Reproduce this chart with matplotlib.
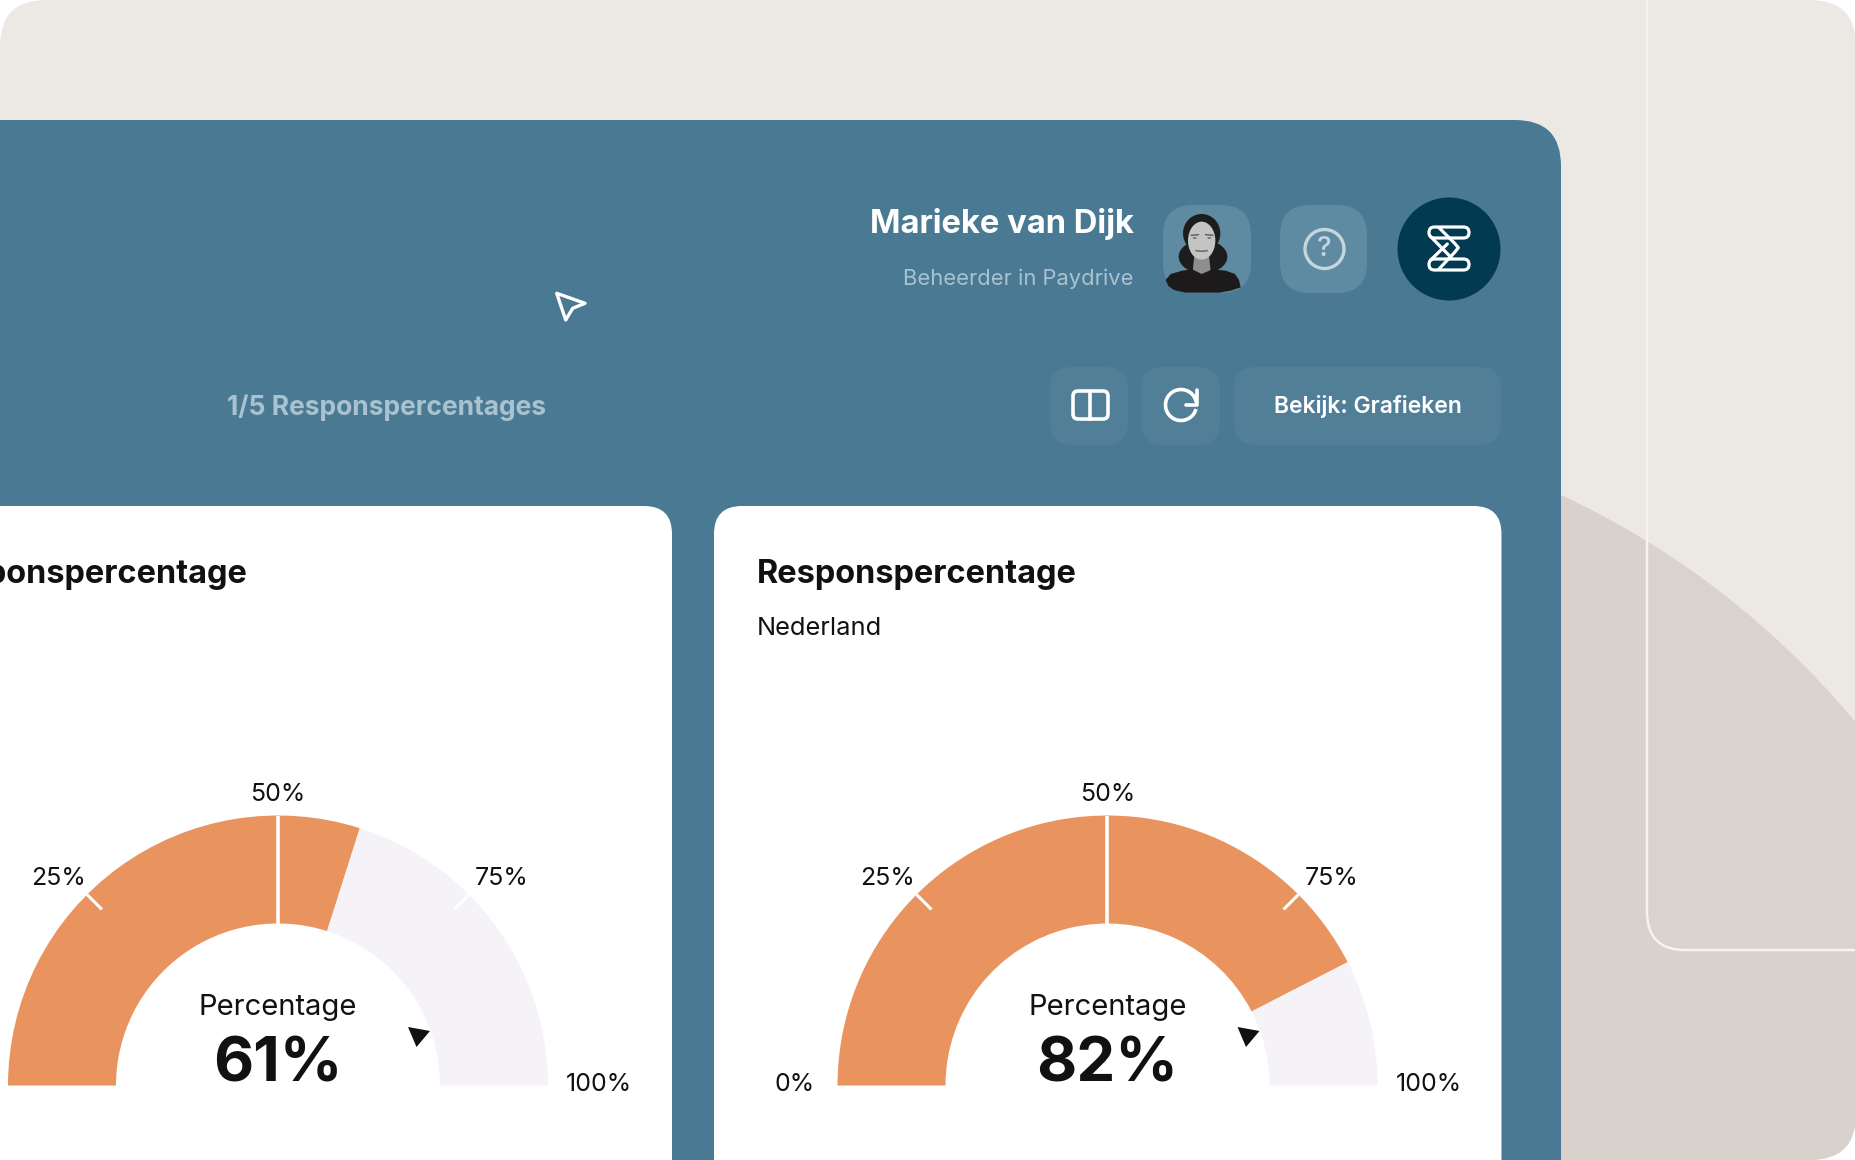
import numpy as np
import matplotlib
matplotlib.use('Agg')
import matplotlib.pyplot as plt
from matplotlib.patches import FancyBboxPatch, Circle, Polygon, Ellipse, Arc

W = 1856
H = 1160

# gauge data: shown number and where the orange arc really stops in the picture
gauge_labels = ['61%', '82%']
gauge_fill = [59.8, 84.9]
gauge_centers = [278, 1107.5]
tick_values = [0, 25, 50, 75, 100]
tick_texts = ['0%', '25%', '50%', '75%', '100%']

# offset of each tick text from its point on the outer arc, in pixels
tick_text_dx = [-43, -29, 0, 33, 51]
tick_text_dy = [1, 16, 21, 16, 1]

BG_LIGHT = '#ECE9E4'
BG_DARK = '#D9D1CB'
PANEL = '#4A7A93'
BUTTON = '#517F98'
SQUARE = '#5E8AA2'
NAVY = '#023A52'
ORANGE = '#E9945F'
TRACK = '#F5F3F7'
INK = '#111114'
MUTED = '#A9C2D0'

R_OUT = 270
R_IN = 162
R_AX = 345
CY = 1085.5

plt.rcParams['font.family'] = ['Inter', 'DejaVu Sans']

fig = plt.figure(figsize=(W / 100, H / 100), dpi=100, facecolor='white')
ax = fig.add_axes([0, 0, 1, 1], zorder=0)
ax.set_xlim(0, W)
ax.set_ylim(H, 0)
ax.axis('off')


def rbox(a, x0, y0, x1, y1, r, **kw):
    p = FancyBboxPatch((x0 + r, y0 + r), x1 - x0 - 2 * r, y1 - y0 - 2 * r,
                       boxstyle='round,pad=%f,rounding_size=%f' % (r, r), lw=kw.pop('lw', 0), **kw)
    a.add_patch(p)
    return p


# backdrop
bg = rbox(ax, 0, 0, W, H, 46, fc=BG_LIGHT)
blob = Circle((1204, 1262), 846, fc=BG_DARK, lw=0)
ax.add_patch(blob)
blob.set_clip_path(bg)
rbox(ax, 1647, -100, 2000, 950, 38, fc=(1, 1, 1, 0.03), ec='#F6F4F1', lw=1.8)

# main panel
rbox(ax, -100, 120, 1561, 1300, 46, fc=PANEL)
rbox(ax, -200, 506, 672, 1300, 28, fc='white')
rbox(ax, 714, 506, 1501.5, 1300, 28, fc='white')

# header
ax.text(1134, 224.5, 'Marieke van Dijk', ha='right', va='center', color='white', fontsize=23.6, fontweight='bold')
ax.text(1134, 279, 'Beheerder in Paydrive', ha='right', va='center', color=MUTED, fontsize=15.8)
ax.text(227, 408, '1/5 Responspercentages', ha='left', va='center', color=MUTED, fontsize=19, fontweight='bold')

# avatar square and a rough portrait
rbox(ax, 1163, 205, 1251, 293, 30, fc=SQUARE)


def av(px, py):
    return 1159 + px / 3, 200 + py / 3


def av_ell(px, py, w, h, c):
    ax.add_patch(Ellipse(av(px, py), w / 3, h / 3, fc=c, lw=0))


DARK_HAIR = '#1E1D1E'
av_ell(128, 100, 112, 116, DARK_HAIR)
av_ell(132, 170, 146, 100, DARK_HAIR)
ax.add_patch(Polygon([av(*p) for p in [(106, 165), (150, 165), (156, 225), (100, 225)]], fc='#8E8E8E', lw=0))
av_ell(128, 122, 82, 114, '#C4C4C4')
ax.plot(*zip(av(97, 106), av(118, 104)), color='#5A5A5A', lw=1)
ax.plot(*zip(av(140, 104), av(161, 106)), color='#5A5A5A', lw=1)
av_ell(107, 114, 12, 5, '#6A6A6A')
av_ell(151, 114, 12, 5, '#6A6A6A')
ax.plot(*zip(av(112, 152), av(128, 154), av(144, 152)), color='#707070', lw=1.2)
ax.add_patch(Polygon([av(*p) for p in [(20, 240), (35, 222), (70, 212), (100, 208), (128, 222), (160, 208), (200, 212),
                                       (228, 222), (240, 240), (245, 262), (215, 272), (180, 278), (80, 278),
                                       (45, 270), (28, 258)]],
                     fc='#1C1A1B', lw=0))

# help button
rbox(ax, 1280, 205, 1367, 293, 30, fc=SQUARE)
ax.add_patch(Circle((1324.5, 249), 19.5, fc='none', ec='#C6D6DF', lw=2.4))
ax.text(1324.5, 248.5, '?', ha='center', va='center', color='#C6D6DF', fontsize=20, fontweight='medium')

# logo
ax.add_patch(Circle((1449, 249), 51.5, fc=NAVY, lw=0))
rbox(ax, 1429, 227, 1469, 238, 5.5, fc='none', ec='white', lw=2.3)
rbox(ax, 1429, 259, 1469, 270, 5.5, fc='none', ec='white', lw=2.3)
lg_x = lambda v: [1414 + q / 3 for q in v]
lg_y = lambda v: [215 + q / 3 for q in v]
ax.plot(lg_x([75, 122, 133, 122, 75]), lg_y([38, 85, 98, 112, 162]), color='white', lw=2.3, solid_capstyle='round')
ax.plot(lg_x([50, 112]), lg_y([65, 128]), color='white', lw=2.3, solid_capstyle='round')
ax.plot(lg_x([100, 50]), lg_y([87, 135]), color='white', lw=2.3, solid_capstyle='round')

# toolbar buttons
rbox(ax, 1050, 367, 1128, 445, 22, fc=BUTTON)
rbox(ax, 1141, 367, 1220, 445, 22, fc=BUTTON)
rbox(ax, 1234, 367, 1501, 445, 22, fc=BUTTON)
rbox(ax, 1073, 391, 1108, 419, 5, fc='none', ec='white', lw=2.6)
ax.plot([1090.5, 1090.5], [394, 419], color='white', lw=2.6)
ax.add_patch(Arc((1181, 405), 31, 31, angle=0, theta1=15, theta2=350, color='white', lw=2.6))
ax.plot([1197, 1197, 1186], [390, 404.5, 404.5], color='white', lw=2.6, solid_joinstyle='round',
        solid_capstyle='round')
ax.text(1368, 406, 'Bekijk: Grafieken', ha='center', va='center', color='white', fontsize=16.5,
        fontweight='semibold')

# cursor
ax.add_patch(Polygon([(556.7, 293.3), (585, 303.3), (572.7, 308.3), (565.7, 320)], fc='none', ec='white', lw=2.4,
                     joinstyle='round'))

# card headings, the left one runs off the page
for cx in gauge_centers:
    ax.text(cx - 350.5, 574.5, 'Responspercentage', ha='left', va='center', color=INK, fontsize=23.4,
            fontweight='bold')
ax.text(757, 628.5, 'Nederland', ha='left', va='center', color=INK, fontsize=18.3)

# gauges
for cx, fill in zip(gauge_centers, gauge_fill):
    g = fig.add_axes([(cx - R_AX) / W, 1 - (CY + R_AX) / H, 2 * R_AX / W, 2 * R_AX / H], projection='polar', zorder=1)
    g.patch.set_alpha(0)
    g.set_theta_offset(np.pi)
    g.set_theta_direction(-1)
    theta_fill = np.deg2rad(fill * 1.8)
    g.bar(0, R_OUT - R_IN, width=theta_fill, bottom=R_IN, align='edge', color=ORANGE, lw=0)
    g.bar(theta_fill, R_OUT - R_IN, width=np.pi - theta_fill, bottom=R_IN, align='edge', color=TRACK, lw=0)
    for v in tick_values[1:-1]:
        t = np.deg2rad(v * 1.8)
        r0 = R_IN if v == 50 else R_OUT - 21
        g.plot([t, t], [r0, R_OUT], color='white', lw=2.6 if v == 50 else 2.2, solid_capstyle='butt')
    for v, s, dx, dy in zip(tick_values, tick_texts, tick_text_dx, tick_text_dy):
        # the 0% of the left gauge lies past the page edge
        if cx + dx - R_OUT < 0 and v == 0:
            continue
        g.annotate(s, (np.deg2rad(v * 1.8), R_OUT), xytext=(dx, dy), textcoords='offset pixels',
                   ha='center', va='center', color=INK, fontsize=18)
    g.set_thetalim(0, 2 * np.pi)
    g.set_rlim(0, R_AX)
    g.axis('off')

top = fig.add_axes([0, 0, 1, 1], zorder=2)
top.set_xlim(0, W)
top.set_ylim(H, 0)
top.axis('off')
for cx, s in zip(gauge_centers, gauge_labels):
    top.text(cx, 1007.5, 'Percentage', ha='center', va='center', color=INK, fontsize=21)
    top.text(cx, 1066, s, ha='center', va='center', color=INK, fontsize=44.5, fontweight='bold')
    top.add_patch(Polygon([(cx + 130, 1027), (cx + 152, 1031), (cx + 138.5, 1047)], fc=INK, lw=0))

fig.savefig('out.png', dpi=100)
